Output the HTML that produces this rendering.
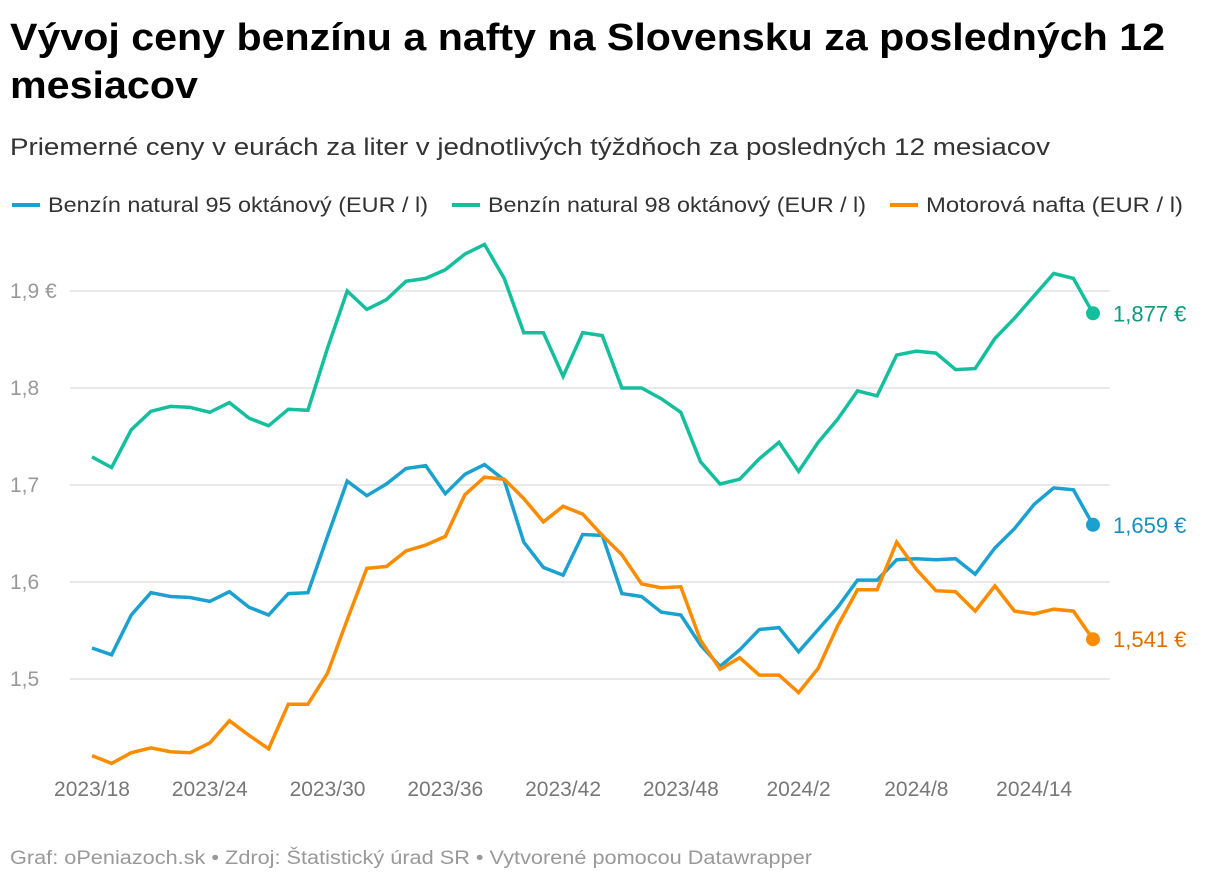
<!DOCTYPE html>
<html><head><meta charset="utf-8"><style>
body{margin:0;background:#fff;font-family:"Liberation Sans",sans-serif;}
svg{display:block}
</style></head><body>
<svg width="1220" height="880" id="chart">
<text x="10" y="50" font-size="38" font-weight="bold" fill="#000" textLength="1155" lengthAdjust="spacingAndGlyphs">Vývoj ceny benzínu a nafty na Slovensku za posledných 12</text>
<text x="10" y="98" font-size="38" font-weight="bold" fill="#000" textLength="188" lengthAdjust="spacingAndGlyphs">mesiacov</text>
<text x="10" y="155" font-size="24" fill="#333" textLength="1040" lengthAdjust="spacingAndGlyphs">Priemerné ceny v eurách za liter v jednotlivých týždňoch za posledných 12 mesiacov</text>
<g font-size="21" fill="#333">
<line x1="12" y1="205" x2="40" y2="205" stroke="#1aa1d0" stroke-width="4"/>
<text x="48" y="212" textLength="380" lengthAdjust="spacingAndGlyphs">Benzín natural 95 oktánový (EUR / l)</text>
<line x1="452" y1="205" x2="480" y2="205" stroke="#14bf9e" stroke-width="4"/>
<text x="488" y="212" textLength="378" lengthAdjust="spacingAndGlyphs">Benzín natural 98 oktánový (EUR / l)</text>
<line x1="890" y1="205" x2="918" y2="205" stroke="#fb8c00" stroke-width="4"/>
<text x="926" y="212" textLength="257" lengthAdjust="spacingAndGlyphs">Motorová nafta (EUR / l)</text>
</g>
<g id="grid"></g><g id="xax"></g><g id="lines"></g>
<text x="10" y="864" font-size="19" fill="#999" textLength="802" lengthAdjust="spacingAndGlyphs">Graf: oPeniazoch.sk • Zdroj: Štatistický úrad SR • Vytvorené pomocou Datawrapper</text>
</svg>
<script>
const yTicks=[1.5,1.6,1.7,1.8,1.9];
const yTickLabels=["1,5","1,6","1,7","1,8","1,9 €"];
const xTickIdx=[0,6,12,18,24,30,36,42,48];
const xTickLabels=["2023/18","2023/24","2023/30","2023/36","2023/42","2023/48","2024/2","2024/8","2024/14"];
const benzin95=[1.532,1.525,1.566,1.589,1.585,1.584,1.580,1.590,1.574,1.566,1.588,1.589,1.647,1.704,1.689,1.701,1.717,1.720,1.691,1.711,1.721,1.705,1.641,1.615,1.607,1.649,1.648,1.588,1.585,1.569,1.566,1.535,1.513,1.530,1.551,1.553,1.528,1.551,1.574,1.602,1.602,1.623,1.624,1.623,1.624,1.608,1.635,1.655,1.680,1.697,1.695,1.659];
const benzin98=[1.729,1.718,1.757,1.776,1.781,1.780,1.775,1.785,1.769,1.761,1.778,1.777,1.841,1.900,1.881,1.891,1.910,1.913,1.922,1.938,1.948,1.913,1.857,1.857,1.812,1.857,1.854,1.800,1.800,1.789,1.775,1.724,1.701,1.706,1.727,1.744,1.714,1.744,1.768,1.797,1.792,1.834,1.838,1.836,1.819,1.820,1.851,1.872,1.895,1.918,1.913,1.877];
const nafta=[1.421,1.413,1.424,1.429,1.425,1.424,1.434,1.457,1.442,1.428,1.474,1.474,1.506,1.561,1.614,1.616,1.632,1.638,1.647,1.690,1.708,1.706,1.686,1.662,1.678,1.670,1.648,1.628,1.598,1.594,1.595,1.540,1.510,1.522,1.504,1.504,1.486,1.511,1.555,1.592,1.592,1.641,1.613,1.591,1.590,1.570,1.596,1.570,1.567,1.572,1.570,1.541];
const endLabels=["1,659 €","1,877 €","1,541 €"];
const NS="http://www.w3.org/2000/svg";
const xs=i=>92+i*(1093-92)/51;
const ys=v=>291+(1.9-v)*970;
function mk(tag,attrs,parent){const e=document.createElementNS(NS,tag);for(const k in attrs)e.setAttribute(k,attrs[k]);parent.appendChild(e);return e;}
const grid=document.getElementById('grid');
yTicks.forEach((t,i)=>{
 const l=mk('line',{x1:70,x2:1110,y1:ys(t),y2:ys(t),stroke:'#e2e2e2','stroke-width':1.5},grid);
 
 
 const tx=mk('text',{x:10,y:ys(t)+7,'font-size':21,fill:'#999'},grid);
 tx.textContent=yTickLabels[i];
 
 
});
const xax=document.getElementById('xax');
xTickIdx.forEach((idx,i)=>{
 const tx=mk('text',{x:xs(idx),y:796,'font-size':21,fill:'#777','text-anchor':'middle'},xax);
 tx.textContent=xTickLabels[i];
 
 
});
const lines=document.getElementById('lines');
const series=[[benzin95,'#1aa1d0','#1a8fbd','series-benzin-95'],[benzin98,'#14bf9e','#0d9a7e','series-benzin-98'],[nafta,'#fb8c00','#dc6f00','series-nafta']];
series.forEach((s,k)=>{
 const d=s[0].map((v,i)=>(i?'L':'M')+xs(i).toFixed(1)+','+ys(v).toFixed(1)).join('');
 const p=mk('path',{d:d,fill:'none',stroke:s[1],'stroke-width':3.5,'stroke-linejoin':'miter'},lines);
 
 
 const n=s[0].length-1;
 const c=mk('circle',{cx:xs(n),cy:ys(s[0][n]),r:7,fill:s[1]},lines);
 
 
 const t=mk('text',{x:1113,y:ys(s[0][n])+8,'font-size':22,fill:s[2]},lines);
 t.textContent=endLabels[k];
 
 
});
</script>
</body></html>
